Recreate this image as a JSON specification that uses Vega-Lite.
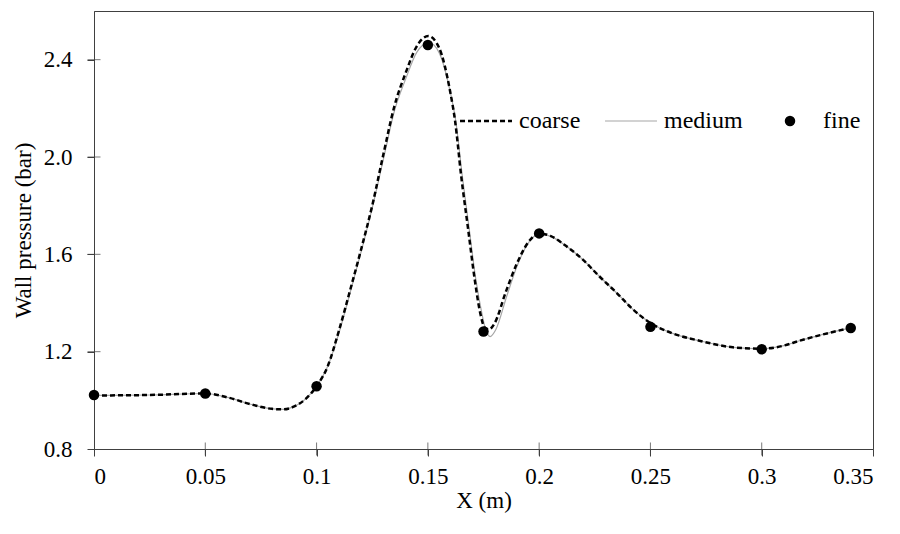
{
  "$schema": "https://vega.github.io/schema/vega-lite/v6.json",
  "width": 779,
  "height": 438,
  "autosize": {"type": "none"},
  "padding": {"left": 94, "top": 11, "right": 27, "bottom": 85},
  "background": "white",
  "config": {
    "view": {"stroke": "#404040", "strokeWidth": 1},
    "axis": {
      "grid": false,
      "domainColor": "#404040",
      "tickColor": "#404040",
      "tickSize": 7,
      "labelColor": "black",
      "titleColor": "black",
      "labelFont": "Liberation Serif",
      "titleFont": "Liberation Serif",
      "labelFontSize": 23,
      "titleFontSize": 23,
      "titleFontWeight": "normal"
    },
    "legend": {
      "labelFont": "Liberation Serif",
      "labelFontSize": 24,
      "labelColor": "black"
    }
  },
  "datasets": {
    "curves": [
      {"series": "medium", "x": 0, "y": 1.02},
      {"series": "medium", "x": 0.025, "y": 1.022},
      {"series": "medium", "x": 0.05, "y": 1.028},
      {"series": "medium", "x": 0.06, "y": 1.012},
      {"series": "medium", "x": 0.07, "y": 0.985},
      {"series": "medium", "x": 0.08, "y": 0.965},
      {"series": "medium", "x": 0.085, "y": 0.963},
      {"series": "medium", "x": 0.09, "y": 0.975},
      {"series": "medium", "x": 0.095, "y": 1.005},
      {"series": "medium", "x": 0.1, "y": 1.058},
      {"series": "medium", "x": 0.105, "y": 1.14},
      {"series": "medium", "x": 0.11, "y": 1.275},
      {"series": "medium", "x": 0.115, "y": 1.44},
      {"series": "medium", "x": 0.12, "y": 1.61},
      {"series": "medium", "x": 0.125, "y": 1.79},
      {"series": "medium", "x": 0.13, "y": 1.99},
      {"series": "medium", "x": 0.135, "y": 2.19},
      {"series": "medium", "x": 0.14, "y": 2.32},
      {"series": "medium", "x": 0.145, "y": 2.43},
      {"series": "medium", "x": 0.1505, "y": 2.47},
      {"series": "medium", "x": 0.155, "y": 2.43},
      {"series": "medium", "x": 0.16, "y": 2.27},
      {"series": "medium", "x": 0.1625, "y": 2.15},
      {"series": "medium", "x": 0.1655, "y": 1.92},
      {"series": "medium", "x": 0.1685, "y": 1.71},
      {"series": "medium", "x": 0.1715, "y": 1.5},
      {"series": "medium", "x": 0.174, "y": 1.37},
      {"series": "medium", "x": 0.176, "y": 1.29},
      {"series": "medium", "x": 0.178, "y": 1.262},
      {"series": "medium", "x": 0.1805, "y": 1.29},
      {"series": "medium", "x": 0.1855, "y": 1.43},
      {"series": "medium", "x": 0.19, "y": 1.55},
      {"series": "medium", "x": 0.195, "y": 1.645},
      {"series": "medium", "x": 0.2, "y": 1.683},
      {"series": "medium", "x": 0.205, "y": 1.675},
      {"series": "medium", "x": 0.212, "y": 1.635},
      {"series": "medium", "x": 0.22, "y": 1.575},
      {"series": "medium", "x": 0.227, "y": 1.51},
      {"series": "medium", "x": 0.235, "y": 1.44},
      {"series": "medium", "x": 0.242, "y": 1.375},
      {"series": "medium", "x": 0.25, "y": 1.318},
      {"series": "medium", "x": 0.26, "y": 1.275},
      {"series": "medium", "x": 0.272, "y": 1.245},
      {"series": "medium", "x": 0.287, "y": 1.218},
      {"series": "medium", "x": 0.3, "y": 1.212},
      {"series": "medium", "x": 0.31, "y": 1.225},
      {"series": "medium", "x": 0.317, "y": 1.245},
      {"series": "medium", "x": 0.325, "y": 1.265},
      {"series": "medium", "x": 0.332, "y": 1.281},
      {"series": "medium", "x": 0.34, "y": 1.298},
      {"series": "coarse", "x": 0, "y": 1.02},
      {"series": "coarse", "x": 0.025, "y": 1.022},
      {"series": "coarse", "x": 0.05, "y": 1.028},
      {"series": "coarse", "x": 0.06, "y": 1.012},
      {"series": "coarse", "x": 0.07, "y": 0.985},
      {"series": "coarse", "x": 0.08, "y": 0.965},
      {"series": "coarse", "x": 0.085, "y": 0.963},
      {"series": "coarse", "x": 0.09, "y": 0.975},
      {"series": "coarse", "x": 0.095, "y": 1.005},
      {"series": "coarse", "x": 0.1, "y": 1.058},
      {"series": "coarse", "x": 0.105, "y": 1.14},
      {"series": "coarse", "x": 0.11, "y": 1.285},
      {"series": "coarse", "x": 0.115, "y": 1.45},
      {"series": "coarse", "x": 0.12, "y": 1.62},
      {"series": "coarse", "x": 0.125, "y": 1.8},
      {"series": "coarse", "x": 0.13, "y": 2.01},
      {"series": "coarse", "x": 0.135, "y": 2.21},
      {"series": "coarse", "x": 0.14, "y": 2.345},
      {"series": "coarse", "x": 0.145, "y": 2.455},
      {"series": "coarse", "x": 0.1502, "y": 2.497},
      {"series": "coarse", "x": 0.155, "y": 2.45},
      {"series": "coarse", "x": 0.16, "y": 2.27},
      {"series": "coarse", "x": 0.1622, "y": 2.15},
      {"series": "coarse", "x": 0.165, "y": 1.92},
      {"series": "coarse", "x": 0.168, "y": 1.71},
      {"series": "coarse", "x": 0.171, "y": 1.5},
      {"series": "coarse", "x": 0.1735, "y": 1.36},
      {"series": "coarse", "x": 0.1755, "y": 1.3},
      {"series": "coarse", "x": 0.1775, "y": 1.292},
      {"series": "coarse", "x": 0.18, "y": 1.317},
      {"series": "coarse", "x": 0.185, "y": 1.445},
      {"series": "coarse", "x": 0.19, "y": 1.562},
      {"series": "coarse", "x": 0.195, "y": 1.648},
      {"series": "coarse", "x": 0.2, "y": 1.686},
      {"series": "coarse", "x": 0.205, "y": 1.676},
      {"series": "coarse", "x": 0.212, "y": 1.635},
      {"series": "coarse", "x": 0.22, "y": 1.575},
      {"series": "coarse", "x": 0.227, "y": 1.51},
      {"series": "coarse", "x": 0.235, "y": 1.44},
      {"series": "coarse", "x": 0.242, "y": 1.375},
      {"series": "coarse", "x": 0.25, "y": 1.318},
      {"series": "coarse", "x": 0.26, "y": 1.275},
      {"series": "coarse", "x": 0.272, "y": 1.245},
      {"series": "coarse", "x": 0.287, "y": 1.218},
      {"series": "coarse", "x": 0.3, "y": 1.212},
      {"series": "coarse", "x": 0.31, "y": 1.225},
      {"series": "coarse", "x": 0.317, "y": 1.245},
      {"series": "coarse", "x": 0.325, "y": 1.265},
      {"series": "coarse", "x": 0.332, "y": 1.281},
      {"series": "coarse", "x": 0.34, "y": 1.298}
    ],
    "fine": [
      {"x": 0, "y": 1.022},
      {"x": 0.05, "y": 1.028},
      {"x": 0.1, "y": 1.058},
      {"x": 0.15, "y": 2.46},
      {"x": 0.175, "y": 1.283},
      {"x": 0.2, "y": 1.686},
      {"x": 0.25, "y": 1.302},
      {"x": 0.3, "y": 1.21},
      {"x": 0.34, "y": 1.297}
    ],
    "xticks": [
      {"x": 0.05, "y": 0.8}, {"x": 0.1, "y": 0.8}, {"x": 0.15, "y": 0.8},
      {"x": 0.2, "y": 0.8}, {"x": 0.25, "y": 0.8}, {"x": 0.3, "y": 0.8}
    ],
    "yticks": [
      {"x": 0, "y": 1.2}, {"x": 0, "y": 1.6}, {"x": 0, "y": 2.0}, {"x": 0, "y": 2.4}
    ]
  },
  "encoding": {
    "x": {
      "field": "x", "type": "quantitative",
      "scale": {"domain": [0, 0.35], "nice": false, "zero": false},
      "axis": {"values": [0, 0.05, 0.1, 0.15, 0.2, 0.25, 0.3, 0.35], "format": "~g", "title": "X (m)", "labelPadding": 9, "titlePadding": 1}
    },
    "y": {
      "field": "y", "type": "quantitative",
      "scale": {"domain": [0.8, 2.6], "nice": false, "zero": false},
      "axis": {"values": [0.8, 1.2, 1.6, 2.0, 2.4], "format": ".1f", "title": "Wall pressure (bar)", "labelPadding": 15, "titlePadding": 8}
    }
  },
  "layer": [
    {
      "data": {"name": "xticks"},
      "mark": {"type": "tick", "orient": "vertical", "size": 13, "thickness": 1, "color": "#404040"}
    },
    {
      "data": {"name": "yticks"},
      "mark": {"type": "tick", "orient": "horizontal", "size": 13, "thickness": 1, "color": "#404040"}
    },
    {
      "data": {"name": "curves"},
      "transform": [{"filter": "datum.series === 'medium'"}],
      "mark": {"type": "line", "interpolate": "monotone", "strokeWidth": 1.2},
      "encoding": {
        "color": {
          "field": "series", "type": "nominal",
          "scale": {"domain": ["coarse", "medium", "fine"], "range": ["black", "#a6a6a6", "black"]},
          "legend": {
            "title": null,
            "orient": "none",
            "direction": "horizontal",
            "legendX": 366,
            "legendY": 84,
            "labelOffset": 7,
            "columnPadding": 21,
            "encode": {
              "symbols": {
                "update": {
                  "shape": {"signal": "(datum.value === 'fine' ? 'circle' : 'stroke')"},
                  "size": {"signal": "(datum.value === 'fine' ? 110 : 2700)"},
                  "strokeDash": {"signal": "(datum.value === 'coarse' ? [5, 3] : [1, 0])"},
                  "strokeWidth": {"signal": "(datum.value === 'coarse' ? 2.5 : (datum.value === 'medium' ? 1.2 : 0))"},
                  "fill": {"signal": "(datum.value === 'fine' ? 'black' : 'transparent')"},
                  "fillOpacity": {"value": 1}
                }
              }
            }
          }
        },
        "order": {"field": "x", "type": "quantitative"}
      }
    },
    {
      "data": {"name": "curves"},
      "transform": [{"filter": "datum.series === 'coarse'"}],
      "mark": {"type": "line", "interpolate": "monotone", "strokeWidth": 2.5, "strokeDash": [5, 3]},
      "encoding": {
        "color": {"field": "series", "type": "nominal"},
        "order": {"field": "x", "type": "quantitative"}
      }
    },
    {
      "data": {"name": "fine"},
      "mark": {"type": "point", "filled": true, "size": 110, "color": "black", "opacity": 1}
    }
  ]
}
